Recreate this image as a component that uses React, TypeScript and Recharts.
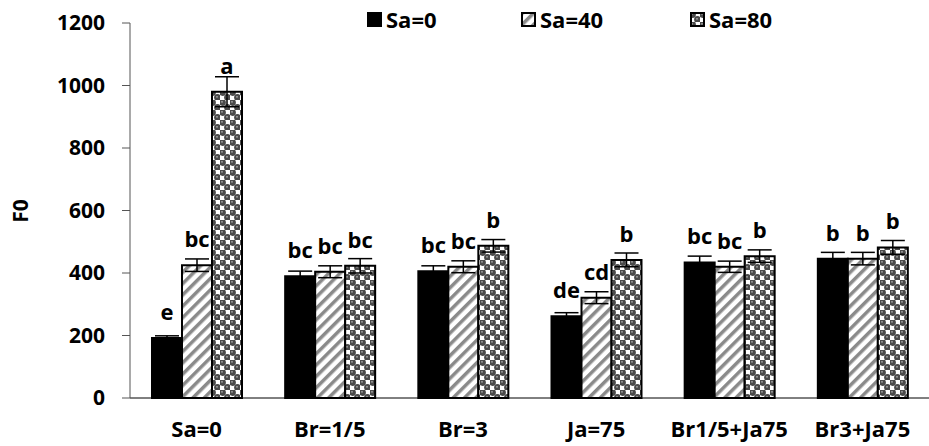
import { BarChart, Bar, XAxis, YAxis, ErrorBar, LabelList, Legend } from "recharts";

// group names along the x axis
const categories = ["Sa=0", "Br=1/5", "Br=3", "Ja=75", "Br1/5+Ja75", "Br3+Ja75"];

// F0 means per salinity level
const sa0 = [192, 390, 406, 262, 434, 446];
const sa40 = [425, 404, 420, 321, 420, 446];
const sa80 = [980, 423, 487, 442, 454, 482];

// standard errors
const err0 = [7, 16, 17, 11, 20, 20];
const err40 = [20, 19, 19, 19, 18, 20];
const err80 = [48, 23, 20, 22, 20, 22];

// significance letters
const letters0 = ["e", "bc", "bc", "de", "bc", "b"];
const letters40 = ["bc", "bc", "bc", "cd", "bc", "b"];
const letters80 = ["a", "bc", "b", "b", "b", "b"];

const yTicks = [0, 200, 400, 600, 800, 1000, 1200];

const series = [
  { key: "sa0", name: "Sa=0", fill: "#000" },
  { key: "sa40", name: "Sa=40", fill: "url(#hatch)" },
  { key: "sa80", name: "Sa=80", fill: "url(#dots)" },
];

const data = categories.map((name, i) => ({
  name,
  sa0: sa0[i],
  sa40: sa40[i],
  sa80: sa80[i],
  e0: err0[i],
  e40: err40[i],
  e80: err80[i],
  l0: letters0[i],
  l40: letters40[i],
  l80: letters80[i],
}));

const FONT = "'Open Sans', sans-serif";

const LetterLabel = (props: any) => {
  const vb = props.viewBox || {};
  const x = props.x ?? vb.x;
  const y = props.y ?? vb.y;
  const width = props.width ?? vb.width;
  return (
    <text
      x={x + width / 2}
      y={y - 18}
      textAnchor="middle"
      fontFamily={FONT}
      fontWeight={700}
      fontSize={22}
      fill="#000"
    >
      {props.value}
    </text>
  );
};

const LegendBox = () => (
  <div style={{ display: "flex", alignItems: "center", fontFamily: FONT, fontWeight: 700, fontSize: 22, color: "#000" }}>
    {series.map((s, i) => (
      <div key={s.key} style={{ display: "flex", alignItems: "center", width: i === 0 ? 154 : i === 1 ? 169 : "auto" }}>
        <svg width={15} height={15} style={{ marginRight: 4 }}>
          <rect x={1} y={1} width={13} height={13} fill={s.fill} stroke="#000" strokeWidth={2} />
        </svg>
        <span style={{ lineHeight: "24px" }}>{s.name}</span>
      </div>
    ))}
  </div>
);

export default function App() {
  return (
    <div style={{ position: "absolute", left: 0, top: 0, width: 929, height: 446, background: "#fff" }}>
      <svg width={0} height={0} style={{ position: "absolute" }}>
        <defs>
          <pattern id="hatch" patternUnits="userSpaceOnUse" width={8} height={8} patternTransform="rotate(45)">
            <rect width={8} height={8} fill="#fff" />
            <rect x={0} y={0} width={3.5} height={8} fill="#8a8a8a" />
          </pattern>
          <pattern id="dots" patternUnits="userSpaceOnUse" width={10} height={10}>
            <rect width={10} height={10} fill="#fff" />
            <circle cx={2.5} cy={2.5} r={3.4} fill="#4a4a4a" />
            <circle cx={7.5} cy={7.5} r={3.4} fill="#4a4a4a" />
            <circle cx={2} cy={1.8} r={0.9} fill="#aaa" />
            <circle cx={7} cy={6.8} r={0.9} fill="#aaa" />
          </pattern>
        </defs>
      </svg>
      <BarChart
        width={929}
        height={446}
        data={data}
        margin={{ top: 23, right: 0, left: 0, bottom: 0 }}
        barSize={30}
        barGap={0}
      >
        <XAxis
          dataKey="name"
          height={48}
          tickLine={false}
          tickSize={0}
          tickMargin={23}
          stroke="#000"
          tick={{ fontSize: 22, fontFamily: FONT, fontWeight: 700, fill: "#000" }}
          interval={0}
        />
        <YAxis
          width={130}
          domain={[0, 1200]}
          ticks={yTicks}
          tickSize={8}
          tickMargin={17}
          stroke="#555"
          tick={{ fontSize: 21, fontFamily: FONT, fontWeight: 700, fill: "#000" }}
          label={{
            content: () => (
              <text
                x={28}
                y={211}
                transform="rotate(-90 28 211)"
                textAnchor="middle"
                fontFamily={FONT}
                fontWeight={700}
                fontSize={21}
                fill="#000"
              >
                F0
              </text>
            ),
          }}
        />
        <Legend
          layout="horizontal"
          verticalAlign="middle"
          align="center"
          wrapperStyle={{ top: 7, left: 367, width: "auto" }}
          content={LegendBox}
        />
        <Bar dataKey="sa0" name="Sa=0" fill="#000" stroke="#000" strokeWidth={2} isAnimationActive={false}>
          <ErrorBar dataKey="e0" width={12} stroke="#000" strokeWidth={1.5} direction="y" isAnimationActive={false} />
          <LabelList dataKey="l0" content={LetterLabel} />
        </Bar>
        <Bar dataKey="sa40" name="Sa=40" fill="url(#hatch)" stroke="#000" strokeWidth={2} isAnimationActive={false}>
          <ErrorBar dataKey="e40" width={12} stroke="#000" strokeWidth={1.5} direction="y" isAnimationActive={false} />
          <LabelList dataKey="l40" content={LetterLabel} />
        </Bar>
        <Bar dataKey="sa80" name="Sa=80" fill="url(#dots)" stroke="#000" strokeWidth={2} isAnimationActive={false}>
          <ErrorBar dataKey="e80" width={12} stroke="#000" strokeWidth={1.5} direction="y" isAnimationActive={false} />
          <LabelList dataKey="l80" content={LetterLabel} />
        </Bar>
      </BarChart>
    </div>
  );
}
